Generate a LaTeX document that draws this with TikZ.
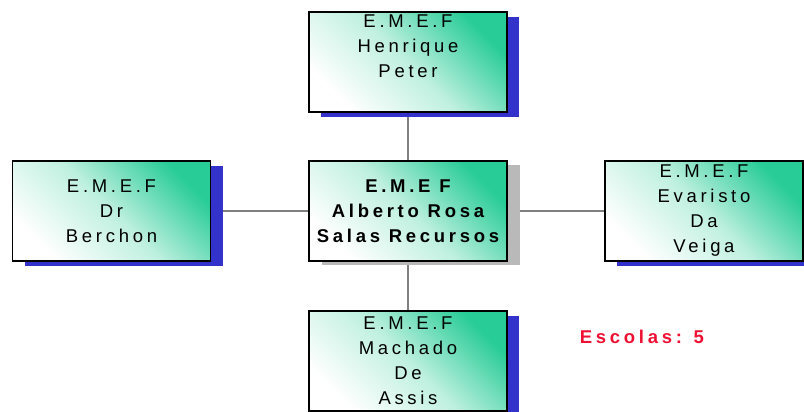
\documentclass[tikz,border=0pt]{standalone}
\usepackage{fontspec}
\newfontfamily\spaced[LetterSpace=20]{Liberation Sans}
\usetikzlibrary{positioning,shadows}
\pgfdeclarelayer{bg}
\pgfsetlayers{bg,main}
\definecolor{schoolgreen}{RGB}{40,204,150}
\definecolor{shadowblue}{RGB}{51,51,204}
\definecolor{linegray}{RGB}{128,128,128}
\definecolor{countred}{RGB}{238,17,51}

\begin{document}
\begin{tikzpicture}[x=1pt,y=-1pt,
    card/.style={draw=black, line width=1.8pt, minimum width=198pt, minimum height=100pt,
      inner sep=0pt, align=center, top color=schoolgreen, bottom color=white,
      middle color=schoolgreen!30!white, shading angle=-45},
    school/.style={card, font=\spaced\fontsize{18.5}{25}\selectfont,
      drop shadow={shadow xshift=12pt, shadow yshift=-5pt, fill=shadowblue, opacity=1}},
    head/.style={card, font=\spaced\bfseries\fontsize{18.5}{25}\selectfont,
      drop shadow={shadow xshift=13pt, shadow yshift=-4pt, fill=gray!55, opacity=1}},
    link/.style={draw=linegray, line width=1.8pt}]
    \useasboundingbox (0,0) rectangle (804,412);

    \node [head] (alberto) at (408,211) {E.M.E F\\Alberto Rosa\\Salas Recursos};
    \node [school] (henrique) at (408,62) {E.M.E.F\\Henrique\\Peter\\\strut};
    \node [school] (berchon) at (111.5,211) {E.M.E.F\\Dr\\Berchon};
    \node [school] (evaristo) at (704,211) {E.M.E.F\\Evaristo\\Da\\Veiga};
    \node [school] (machado) at (408,361) {E.M.E.F\\Machado\\De\\Assis};
    \node [text=countred, font=\spaced\bfseries\fontsize{18.5}{22}\selectfont] (escolas) at (642,337) {Escolas: 5};

    \begin{pgfonlayer}{bg}    % connectors behind the cards
        \draw [link] (henrique) -- (alberto);
        \draw [link] (alberto) -- (machado);
        \draw [link] (berchon) -- (alberto);
        \draw [link] (alberto) -- (evaristo);
    \end{pgfonlayer}
\end{tikzpicture}
\end{document}
